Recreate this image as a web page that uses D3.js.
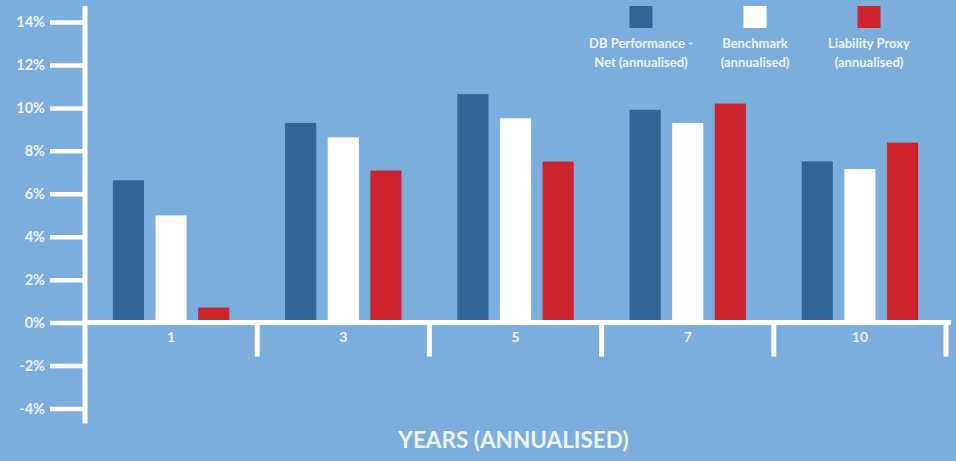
<!DOCTYPE html>
<html><head><meta charset="utf-8">
<script src="https://cdn.jsdelivr.net/npm/d3@7"></script>
<style>
html,body{margin:0;padding:0;background:#7caedd;}
svg{display:block;}
text{font-family:Lato,"Open Sans",sans-serif;}
</style></head>
<body>
<svg id="chart" width="956" height="461"></svg>
<script>
const categories = ["1","3","5","7","10"];
const seriesNames = ["DB Performance -\nNet (annualised)","Benchmark\n(annualised)","Liability Proxy\n(annualised)"];
const seriesKeys = ["db","bench","liab"];
const dbValues = [6.63, 9.3, 10.64, 9.91, 7.51];
const benchValues = [4.99, 8.63, 9.52, 9.29, 7.15];
const liabValues = [0.7, 7.08, 7.5, 10.2, 8.38];
const yTicks = [-4,-2,0,2,4,6,8,10,12,14];
const colors = ["#336497","#ffffff","#cc232c"];
const xTitle = "YEARS (ANNUALISED)";

const svg = d3.select("#chart");
const W = 956, H = 461;
svg.append("rect").attr("width",W).attr("height",H).attr("fill","#7caedd");

const y = d3.scaleLinear().domain([-4,14]).range([408.5,22]);
const x0 = d3.scaleBand().domain(categories).range([85,946]).paddingInner(0).paddingOuter(0);
const x1 = d3.scaleBand().domain(seriesKeys).range([0,x0.bandwidth()]).paddingInner(0.27).paddingOuter(0.655);

const valuesByKey = {db:dbValues, bench:benchValues, liab:liabValues};
const textColor = "#eef3f9";

// Bars
const groups = svg.append("g").selectAll("g").data(categories).join("g")
  .attr("transform", d => `translate(${x0(d)},0)`);
groups.selectAll("rect").data((c,i) => seriesKeys.map((k,j) => ({k, j, v: valuesByKey[k][i]})))
  .join("rect")
  .attr("x", d => x1(d.k))
  .attr("width", x1.bandwidth())
  .attr("y", d => y(Math.max(0,d.v)))
  .attr("height", d => Math.abs(y(d.v) - y(0)) - 2.5)
  .attr("fill", d => colors[d.j]);

// Y axis
const yAxis = d3.axisLeft(y).tickValues(yTicks).tickFormat(d => d + "%").tickSize(35).tickPadding(5);
const gy = svg.append("g").attr("transform","translate(85,0)").call(yAxis);
gy.select(".domain").remove();
gy.selectAll(".tick line").attr("stroke","#ffffff").attr("stroke-width",4.5);
gy.selectAll(".tick text").attr("fill",textColor).attr("font-size",14.5).attr("font-weight","bold");
svg.append("line").attr("x1",85).attr("x2",85).attr("y1",y(14.75)).attr("y2",y(-4.7))
  .attr("stroke","#ffffff").attr("stroke-width",5);

// X axis line and dividers
svg.append("line").attr("x1",82.5).attr("x2",x0.range()[1]+5).attr("y1",y(0)).attr("y2",y(0))
  .attr("stroke","#ffffff").attr("stroke-width",5);
svg.append("g").selectAll("line").data(categories).join("line")
  .attr("x1", d => x0(d) + x0.bandwidth()).attr("x2", d => x0(d) + x0.bandwidth())
  .attr("y1", y(0)).attr("y2", y(-1.58))
  .attr("stroke","#ffffff").attr("stroke-width",5);

const xAxis = d3.axisBottom(x0).tickSize(0).tickPadding(9);
const gx = svg.append("g").attr("transform",`translate(0,${y(0)})`).call(xAxis);
gx.select(".domain").remove();
gx.selectAll(".tick text").attr("fill",textColor).attr("font-size",14).attr("font-weight","bold");

// X title
svg.append("text").attr("x",(x0.range()[0]+x0.range()[1])/2 - 2).attr("y",448)
  .attr("text-anchor","middle").attr("fill",textColor).attr("font-size",22.5).attr("font-weight","bold")
  .text(xTitle);

// Legend
const legendX = [641, 755, 869];
const leg = svg.append("g").selectAll("g").data(seriesNames).join("g")
  .attr("transform",(d,i)=>`translate(${legendX[i]},0)`);
leg.append("rect").attr("x",-11.5).attr("y",6).attr("width",23).attr("height",22)
  .attr("fill",(d,i)=>colors[i]);
leg.append("text").attr("text-anchor","middle").attr("fill",textColor)
  .attr("font-size",13).attr("font-weight","bold")
  .selectAll("tspan").data(d => d.split("\n")).join("tspan")
  .attr("x",0).attr("y",(d,i)=> 47.5 + i*19).text(d=>d);
</script>
</body></html>
